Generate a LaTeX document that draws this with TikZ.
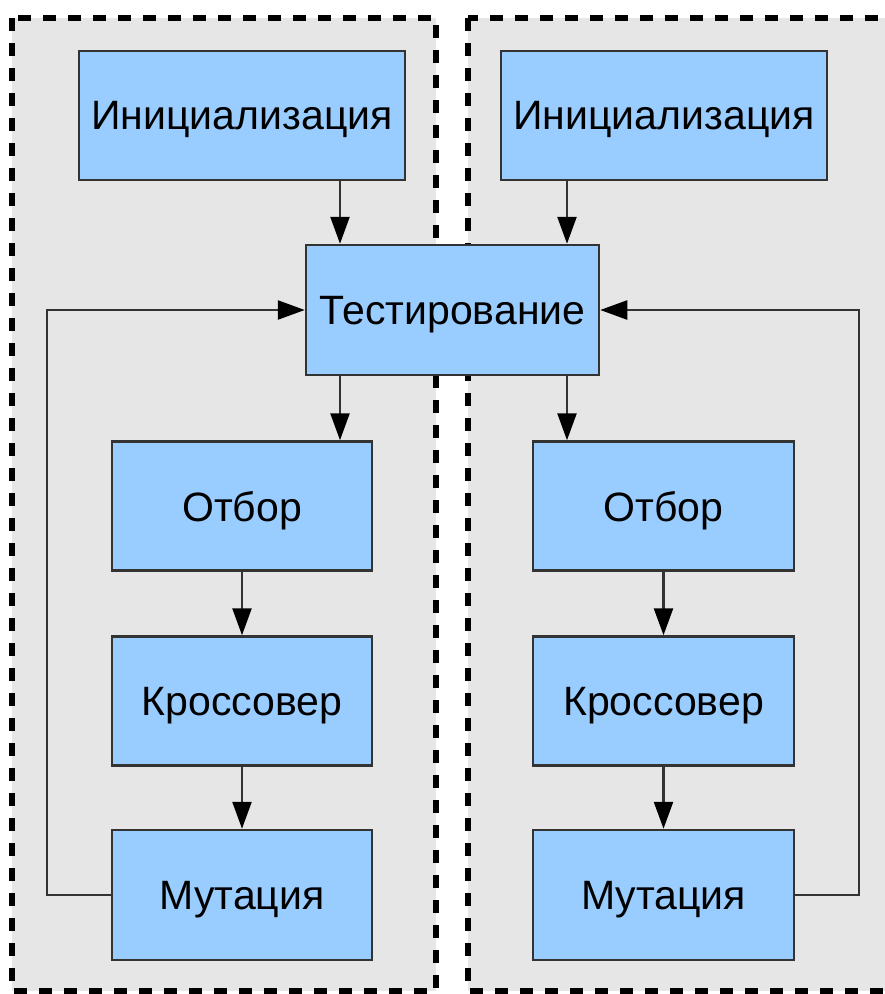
\documentclass[tikz,border=0pt]{standalone}
\usepackage{fontspec}
\setmainfont{Liberation Sans}
\usetikzlibrary{arrows.meta}

\definecolor{panelgray}{HTML}{E6E6E6}
\definecolor{boxblue}{HTML}{99CCFF}
\definecolor{edgegray}{HTML}{333333}

\tikzset{
  panel/.style={fill=panelgray, draw=black, line width=6pt, dash pattern=on 13pt off 12pt},
  stagebox/.style={rectangle, draw=edgegray, line width=2.5pt, fill=boxblue,
    minimum height=129pt, inner sep=0pt, text depth=0pt,
    font=\fontsize{41}{48}\selectfont},
  headtip/.tip={Triangle[length=27pt,width=19pt,color=black]},
  flow/.style={draw=edgegray, line width=2.5pt, arrows={-headtip}}
}

\begin{document}
\begin{tikzpicture}[x=1pt,y=-1pt]
  \useasboundingbox (0,0) rectangle (885,994);
  \clip (0,0) rectangle (885,994);

  % two grey dashed panels
  \path[panel] (12,18) rectangle (436,991);
  \path[panel] (468,18) rectangle (900,991);

  % stages of the two algorithms
  \node[stagebox, minimum width=326pt] (linit) at (242,115.5) {Инициализация};
  \node[stagebox, minimum width=326pt] (rinit) at (664,115.5) {Инициализация};
  \node[stagebox, minimum width=293pt, minimum height=130pt] (tst) at (452.5,310) {Тестирование};

  \node[stagebox, minimum width=260pt] (lsel) at (242,506) {Отбор};
  \node[stagebox, minimum width=260pt] (lcx)  at (242,701) {Кроссовер};
  \node[stagebox, minimum width=260pt, minimum height=130pt] (lmut) at (242,895) {Мутация};

  \node[stagebox, minimum width=261pt] (rsel) at (663.5,506) {Отбор};
  \node[stagebox, minimum width=261pt] (rcx)  at (663.5,701) {Кроссовер};
  \node[stagebox, minimum width=261pt, minimum height=130pt] (rmut) at (663.5,895) {Мутация};

  % columns of the arrows into and out of the shared test box
  \coordinate (lx) at (340,0);
  \coordinate (rx) at (567,0);
  \coordinate (lloop) at (47,310);
  \coordinate (rloop) at (859,310);

  \draw[flow] (linit.south -| lx) -- (tst.north -| lx);
  \draw[flow] (rinit.south -| rx) -- (tst.north -| rx);
  \draw[flow] (tst.south -| lx) -- (lsel.north -| lx);
  \draw[flow] (tst.south -| rx) -- (rsel.north -| rx);

  \draw[flow] (lsel) -- (lcx);
  \draw[flow] (lcx) -- (lmut);
  \draw[flow] (rsel) -- (rcx);
  \draw[flow] (rcx) -- (rmut);

  % feedback loops back to testing
  \draw[flow] (lmut.west) -| (lloop) -- (tst.west);
  \draw[flow] (rmut.east) -| (rloop) -- (tst.east);
\end{tikzpicture}
\end{document}
